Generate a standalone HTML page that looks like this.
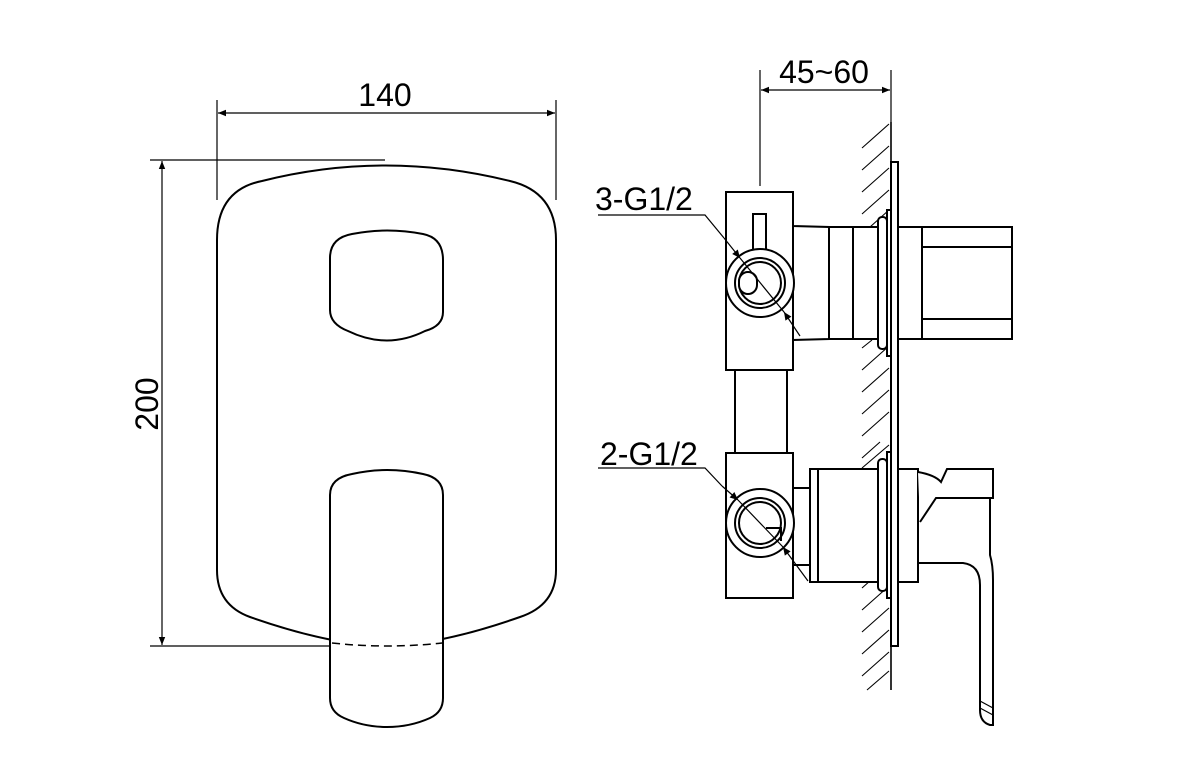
<!DOCTYPE html>
<html><head><meta charset="utf-8"><style>html,body{margin:0;padding:0;background:#fff}svg{display:block}</style></head><body>
<svg width="1197" height="775" viewBox="0 0 1197 775" xmlns="http://www.w3.org/2000/svg" font-family="Liberation Sans, sans-serif">
<defs><marker id="a" viewBox="0 0 10 10" refX="10" refY="5" markerWidth="22" markerHeight="8" markerUnits="userSpaceOnUse" orient="auto-start-reverse"><path d="M0,1 L10,5 L0,9 Z" fill="#000"/></marker>
<marker id="b" viewBox="0 0 10 10" refX="10" refY="5" markerWidth="18" markerHeight="8" markerUnits="userSpaceOnUse" orient="auto-start-reverse"><path d="M0,0.5 L10,5 L0,9.5 Z" fill="#000"/></marker></defs>
<g fill="none" stroke="#000" stroke-width="1.2">
<line x1="217" y1="100" x2="217" y2="200"/><line x1="556" y1="100" x2="556" y2="200"/>
<line x1="218" y1="113" x2="555" y2="113" marker-start="url(#a)" marker-end="url(#a)"/>
<line x1="150" y1="160" x2="385" y2="160"/><line x1="150" y1="646" x2="393" y2="646"/>
<line x1="162" y1="161" x2="162" y2="645" marker-start="url(#a)" marker-end="url(#a)"/>
</g>
<g fill="none" stroke="#000" stroke-width="2">
<path d="M217,240 Q217,190 262,181 Q385,150 510,181 Q556,192 556,240 L556,570 Q556,605 520,617 Q440,645 385,646 Q330,645 250,617 Q217,605 217,570 Z"/>
<path d="M330,258 Q330,238 352,234 Q387,227 423,234 Q443,238 443,260 L443,312 Q443,326 425,331 Q387,350 348,331 Q330,324 330,310 Z"/>
<path d="M330,495 Q330,478 352,474 Q387,466 423,474 Q443,478 443,495 L443,698 Q443,712 430,718 Q410,727 387,727 Q364,727 344,718 Q330,712 330,698 Z" fill="#fff"/>
</g>
<path d="M332,643 Q360,646 387,646 Q414,646 442,643" fill="none" stroke="#000" stroke-width="1.5" stroke-dasharray="8,5"/>
<text x="385" y="106" font-size="32" text-anchor="middle">140</text>
<text x="0" y="0" font-size="32" text-anchor="middle" transform="translate(158,404) rotate(-90)">200</text>
<g fill="none" stroke="#000" stroke-width="1.2">
<line x1="760" y1="70" x2="760" y2="186"/><line x1="891" y1="70" x2="891" y2="122"/>
<line x1="761" y1="90" x2="890" y2="90" marker-start="url(#a)" marker-end="url(#a)"/>
</g>
<text x="824" y="83" font-size="32" text-anchor="middle">45~60</text>
<g stroke="#000" stroke-width="1.1">
<line x1="891" y1="122" x2="891" y2="690" stroke-width="1.6"/>
<line x1="862" y1="148" x2="889" y2="124"/><line x1="862" y1="170" x2="889" y2="146"/><line x1="862" y1="192" x2="889" y2="168"/><line x1="862" y1="214" x2="889" y2="190"/><line x1="870" y1="227" x2="889" y2="210"/>
<line x1="862" y1="348" x2="872" y2="340"/><line x1="862" y1="370" x2="889" y2="346"/><line x1="862" y1="392" x2="889" y2="368"/><line x1="862" y1="414" x2="889" y2="390"/><line x1="862" y1="436" x2="889" y2="412"/><line x1="862" y1="458" x2="880" y2="442"/><line x1="862" y1="468" x2="889" y2="445"/>
<line x1="862" y1="588" x2="880" y2="572"/><line x1="862" y1="610" x2="889" y2="586"/><line x1="862" y1="632" x2="889" y2="608"/><line x1="862" y1="654" x2="889" y2="630"/><line x1="862" y1="676" x2="889" y2="652"/><line x1="867" y1="690" x2="889" y2="671"/>
</g>
<g fill="#fff" stroke="#000" stroke-width="2">
<rect x="891" y="162" width="7" height="484"/>
<path d="M726,192 L793,192 L793,226 L829,227 L829,339 L793,340 L793,370 L726,370 Z"/>
<line x1="793" y1="226" x2="793" y2="340"/>
<rect x="829" y="227" width="49" height="112"/><line x1="853" y1="227" x2="853" y2="339"/>
<rect x="878" y="217" width="9" height="132" rx="4"/>
<rect x="887" y="210" width="4" height="146"/>
<rect x="898" y="227" width="24" height="112"/>
<rect x="922" y="227" width="90" height="112"/>
<line x1="922" y1="247" x2="1012" y2="247"/><line x1="922" y1="319" x2="1012" y2="319"/>
<rect x="753" y="214" width="13" height="36"/>
<circle cx="760" cy="283" r="34"/><circle cx="760" cy="283" r="25"/><circle cx="760" cy="283" r="21"/>
<rect x="739" y="272" width="18" height="22" rx="9"/>
<rect x="735" y="370" width="52" height="84"/>
<rect x="726" y="453" width="67" height="145"/>
<rect x="793" y="488" width="17" height="77"/>
<rect x="810" y="469" width="8" height="113"/>
<rect x="818" y="469" width="60" height="113"/>
<rect x="878" y="459" width="9" height="132" rx="4"/>
<rect x="887" y="452" width="4" height="146"/>
<rect x="898" y="469" width="20" height="113"/>
<circle cx="760" cy="523" r="34"/><circle cx="760" cy="523" r="25"/><circle cx="760" cy="523" r="21"/>
<path d="M766,528 L781,528 L781,541" fill="none"/>
<path d="M918,472 Q935,475 941,482 L947,469 L993,469 L993,498 L936,498 L920,522" />
<path d="M918,563 L963,563 Q980,565 980,585 L980,710 Q980,722 990,725 L993,725 L993,580 Q993,565 990,555 L990,498" fill="none"/>
<line x1="980" y1="701" x2="993" y2="708" stroke-width="1.2"/><line x1="980" y1="708" x2="993" y2="715" stroke-width="1.2"/>
</g>
<g fill="none" stroke="#000" stroke-width="1.2">
<polyline points="598,215 705,215 724,238"/>
<line x1="724" y1="238" x2="740" y2="258" marker-end="url(#b)"/>
<line x1="740" y1="258" x2="784" y2="312"/>
<line x1="800" y1="336" x2="784" y2="312" marker-end="url(#b)"/>
<polyline points="598,468 705,468 722,486"/>
<line x1="722" y1="486" x2="738" y2="500" marker-end="url(#b)"/>
<line x1="738" y1="500" x2="783" y2="547"/>
<line x1="808" y1="581" x2="783" y2="547" marker-end="url(#b)"/>
</g>
<text x="595" y="210" font-size="32">3-G1/2</text>
<text x="600" y="465" font-size="32">2-G1/2</text>
</svg>
</body></html>
